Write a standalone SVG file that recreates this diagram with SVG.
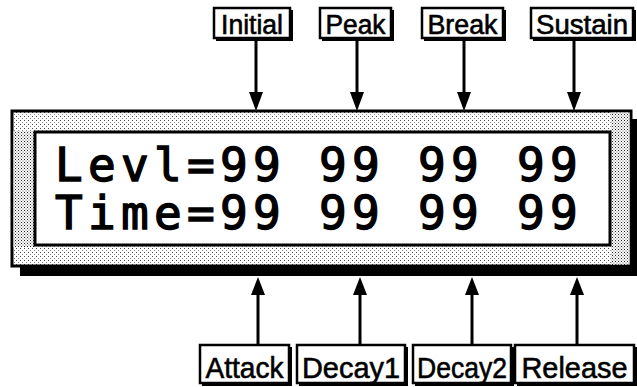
<svg xmlns="http://www.w3.org/2000/svg" width="637" height="387" viewBox="0 0 637 387">
<defs>
<style>
.sh{fill:#000}
.bx{fill:#fff;stroke:#000;stroke-width:2.5}
.lbl text{font-family:"Liberation Sans",Arial,sans-serif;fill:#000;stroke:#000;stroke-width:0.6;text-anchor:middle}
.top text{font-size:27px}
.bot text{font-size:30px}
.lcd{font-family:"DejaVu Sans Mono",monospace;font-size:46px;fill:#000;stroke:#000;stroke-width:1.4;letter-spacing:5.3px}
.conn line{stroke:#000;stroke-width:3}
.conn polygon{fill:#000}
</style>
<pattern id="lt" width="4" height="4" patternUnits="userSpaceOnUse">
<rect width="4" height="4" fill="#fff"/>
<rect x="0" y="0" width="1" height="1" fill="#444"/>
<rect x="2" y="2" width="1" height="1" fill="#888"/>
</pattern>
<pattern id="dk" width="3" height="3" patternUnits="userSpaceOnUse">
<rect width="3" height="3" fill="#fff"/>
<rect width="1" height="1" fill="#222"/>
<rect x="1.5" y="1.5" width="1" height="1" fill="#555"/>
</pattern>
</defs>
<rect width="637" height="387" fill="#fff"/>

<g id="display">
<rect x="20" y="119" width="617" height="157" fill="#000"/>
<rect x="12" y="111" width="619" height="155" fill="url(#lt)" stroke="#000" stroke-width="3"/>
<rect x="13.5" y="131" width="21" height="116" fill="url(#dk)"/>
<rect x="611" y="112.5" width="18.5" height="152" fill="url(#dk)"/>
<rect x="35" y="132" width="575" height="113" fill="#fff" stroke="#000" stroke-width="3"/>
<text class="lcd" x="55" y="181">Levl=99 99 99 99</text>
<text class="lcd" x="55" y="229">Time=99 99 99 99</text>
</g>

<g id="connectors" class="conn">
<line x1="256" y1="40" x2="256" y2="100"/><polygon points="249,92 263,92 256,111"/>
<line x1="357" y1="40" x2="357" y2="100"/><polygon points="350,92 364,92 357,111"/>
<line x1="464" y1="40" x2="464" y2="100"/><polygon points="457,92 471,92 464,111"/>
<line x1="574" y1="40" x2="574" y2="100"/><polygon points="567,92 581,92 574,111"/>
<line x1="258" y1="345" x2="258" y2="287"/><polygon points="251,295 265,295 258,277"/>
<line x1="360" y1="345" x2="360" y2="287"/><polygon points="353,295 367,295 360,277"/>
<line x1="472" y1="345" x2="472" y2="287"/><polygon points="465,295 479,295 472,277"/>
<line x1="577" y1="345" x2="577" y2="287"/><polygon points="570,295 584,295 577,277"/>
</g>

<g id="initial" class="lbl top">
<rect class="sh" x="216" y="10" width="77" height="31"/>
<rect class="bx" x="214" y="8" width="76" height="30"/>
<text x="252" y="34" textLength="62" lengthAdjust="spacingAndGlyphs">Initial</text>
</g>
<g id="peak" class="lbl top">
<rect class="sh" x="322" y="10" width="72" height="31"/>
<rect class="bx" x="320" y="8" width="71" height="30"/>
<text x="355.5" y="34" textLength="60" lengthAdjust="spacingAndGlyphs">Peak</text>
</g>
<g id="break" class="lbl top">
<rect class="sh" x="424" y="10" width="82" height="31"/>
<rect class="bx" x="422" y="8" width="81" height="30"/>
<text x="462.5" y="34" textLength="70" lengthAdjust="spacingAndGlyphs">Break</text>
</g>
<g id="sustain" class="lbl top">
<rect class="sh" x="533" y="10" width="103" height="31"/>
<rect class="bx" x="531" y="8" width="102" height="30"/>
<text x="582" y="34" textLength="92" lengthAdjust="spacingAndGlyphs">Sustain</text>
</g>

<g id="attack" class="lbl bot">
<rect class="sh" x="202" y="347" width="90" height="39"/>
<rect class="bx" x="200" y="345" width="89" height="38"/>
<text x="244.5" y="378" textLength="78" lengthAdjust="spacingAndGlyphs">Attack</text>
</g>
<g id="decay1" class="lbl bot">
<rect class="sh" x="299" y="347" width="109" height="39"/>
<rect class="bx" x="297" y="345" width="108" height="38"/>
<text x="351" y="378" textLength="98" lengthAdjust="spacingAndGlyphs">Decay1</text>
</g>
<g id="decay2" class="lbl bot">
<rect class="sh" x="415" y="347" width="99" height="39"/>
<rect class="bx" x="413" y="345" width="98" height="38"/>
<text x="462" y="378" textLength="90" lengthAdjust="spacingAndGlyphs">Decay2</text>
</g>
<g id="release" class="lbl bot">
<rect class="sh" x="517" y="347" width="120" height="39"/>
<rect class="bx" x="515" y="345" width="119" height="38"/>
<text x="574.5" y="378" textLength="106" lengthAdjust="spacingAndGlyphs">Release</text>
</g>
</svg>
